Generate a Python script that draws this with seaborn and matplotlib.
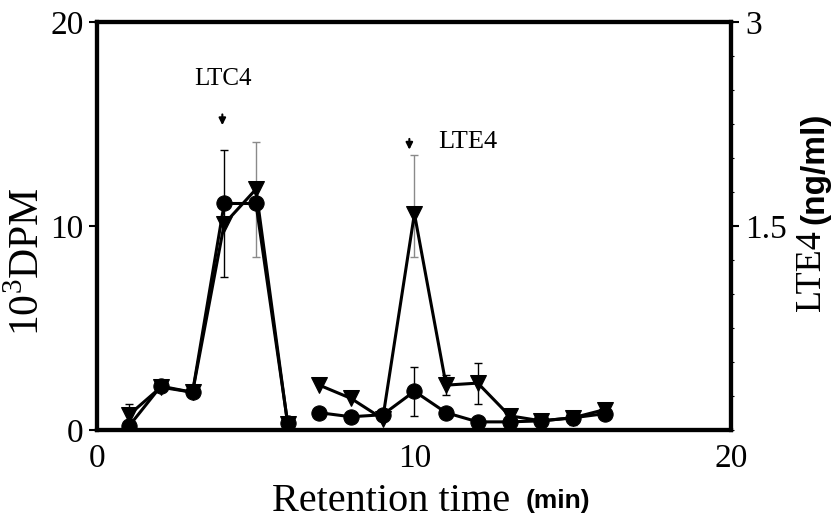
import numpy as np
import pandas as pd
import matplotlib
matplotlib.use("Agg")
import matplotlib.pyplot as plt
from matplotlib.ticker import FixedFormatter
import seaborn as sns

# ---- data ----
time_seg1 = [1, 2, 3, 4, 5, 6]
time_seg2 = [7, 8, 9, 10, 11, 12, 13, 14, 15, 16]
circle_seg1 = [0.2, 2.15, 1.85, 11.1, 11.1, 0.35]
circle_seg2 = [0.85, 0.65, 0.75, 1.9, 0.85, 0.4, 0.4, 0.45, 0.6, 0.8]
tri_seg1 = [0.75, 2.1, 1.85, 10.1, 11.8, 0.3]
tri_seg2 = [2.2, 1.55, 0.55, 10.6, 2.2, 2.3, 0.7, 0.45, 0.6, 1.0]

err_x_circle = [4, 10, 15]
err_y_circle = [10.6, 1.9, 0.6]
err_circle = [3.1, 1.2, 0.35]
err_x_tri = [1, 11, 12, 16]
err_y_tri = [0.75, 2.2, 2.3, 1.0]
err_tri = [0.55, 0.5, 1.0, 0.3]
err_x_grey = [5, 10]
err_y_grey = [11.3, 11.0]
err_grey = [2.8, 2.5]

x_ticks = [0, 10, 20]
y_ticks = [0, 10, 20]
y2_ticks = [1.5, 3]
y2_labels = ["1.5", "3"]

rows = []
for seg, (t, c, tr) in enumerate([(time_seg1, circle_seg1, tri_seg1),
                                  (time_seg2, circle_seg2, tri_seg2)]):
    for xi, ci, ti in zip(t, c, tr):
        rows.append(dict(time=xi, value=ci, series="circle", seg=seg))
        rows.append(dict(time=xi, value=ti, series="triangle", seg=seg))
df = pd.DataFrame(rows)

sns.set_style("white")
plt.rcParams["font.family"] = ["Liberation Serif", "DejaVu Serif"]
plt.rcParams["mathtext.fontset"] = "custom"
plt.rcParams["mathtext.rm"] = "Liberation Serif"
for k in ["text.color", "axes.labelcolor", "xtick.color", "ytick.color",
          "axes.edgecolor"]:
    plt.rcParams[k] = "black"

fig = plt.figure(figsize=(8.33, 5.2), dpi=100)
ax = fig.add_axes([0.117, 0.173, 0.761, 0.785])

# grey error bars (behind)
ax.errorbar(err_x_grey, err_y_grey, yerr=err_grey, fmt="none",
            ecolor="#8a8a8a", elinewidth=1.0, capsize=3, zorder=1)

sns.lineplot(data=df, x="time", y="value", style="series", units="seg",
             estimator=None, markers={"circle": "o", "triangle": "v"},
             dashes=False, color="black", linewidth=2.2, markersize=11,
             markeredgecolor="black", legend=False, ax=ax, zorder=3)

ax.errorbar(err_x_circle, err_y_circle, yerr=err_circle, fmt="none",
            ecolor="black", elinewidth=1.0, capsize=3, zorder=2)
ax.errorbar(err_x_tri, err_y_tri, yerr=err_tri, fmt="none",
            ecolor="black", elinewidth=1.0, capsize=3, zorder=2)

ax.set_xlim(0, 20)
ax.set_ylim(0, 20)
ax.set_xticks(x_ticks)
ax.set_yticks(y_ticks)
ax.set_xticks(np.arange(0, 21, 2), minor=True)
ax.tick_params(axis="both", which="major", direction="out", length=6,
               width=1.5, labelsize=24, pad=4, colors="black")
ax.tick_params(axis="x", which="minor", direction="out", length=3, width=1)
ax.set_xlabel("")
ax.set_ylabel("")
for sp in ax.spines.values():
    sp.set_linewidth(3)
    sp.set_color("black")

ax2 = ax.twinx()
ax2.set_ylim(0, 3)
ax2.set_yticks(y2_ticks)
ax2.yaxis.set_major_formatter(FixedFormatter(y2_labels))
ax2.set_yticks(np.arange(0, 3.01, 0.25), minor=True)
ax2.tick_params(axis="y", which="major", direction="out", length=6,
                width=1.5, labelsize=24, pad=4, colors="black")
ax2.tick_params(axis="y", which="minor", direction="out", length=2, width=0.8)
for sp in ax2.spines.values():
    sp.set_linewidth(3)
    sp.set_color("black")

# annotations
ax.text(3.95, 17.2, "LTC4", fontsize=18, ha="center", va="center")
ax.annotate("", xy=(3.94, 14.8), xytext=(3.94, 15.6),
            arrowprops=dict(arrowstyle="-|>", color="black", lw=1.5,
                            mutation_scale=10))
ax.text(10.75, 14.1, "LTE4", fontsize=19, ha="left", va="center")
ax.annotate("", xy=(9.84, 13.6), xytext=(9.84, 14.4),
            arrowprops=dict(arrowstyle="-|>", color="black", lw=1.5,
                            mutation_scale=10))

# axis labels
fig.text(0.034, 0.497, "10$^3$DPM", rotation=90, fontsize=30,
         ha="center", va="center")
fig.text(0.469, 0.036, "Retention time", fontsize=29, ha="center", va="center")
fig.text(0.670, 0.036, "(min)", fontsize=19, fontweight="bold",
         family=["Liberation Sans", "DejaVu Sans"], ha="center", va="center")
fig.text(0.974, 0.479, "LTE4", rotation=90, fontsize=26,
         ha="center", va="center")
fig.text(0.978, 0.677, "(ng/ml)", rotation=90, fontsize=24, fontweight="bold",
         family=["Liberation Sans", "DejaVu Sans"], ha="center", va="center")

fig.savefig("out.png", dpi=100, facecolor="white")
